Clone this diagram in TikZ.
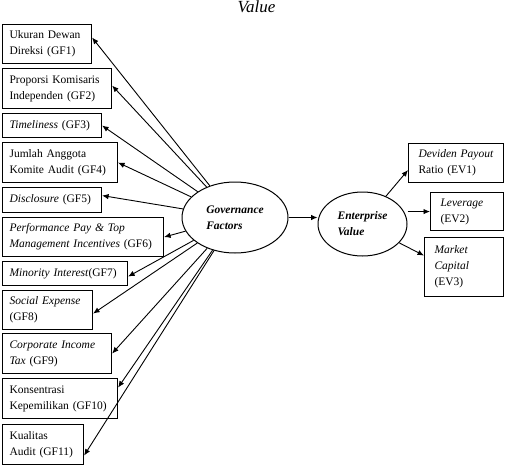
\documentclass[tikz,border=0pt]{standalone}
\usepackage{fontspec}
\setmainfont{Liberation Serif}
\usetikzlibrary{arrows.meta,shapes.geometric,calc}
\begin{document}
\begin{tikzpicture}[x=1pt,y=-1pt,
  box/.style={draw, line width=1.1pt, anchor=north west, align=left, inner xsep=7pt, inner ysep=0pt, font=\fontsize{11.5}{16}\selectfont},
  evbox/.style={box, inner xsep=10pt},
  oval/.style={draw, ellipse, line width=1pt, align=left, inner sep=0pt, font=\fontsize{11.5}{16}\selectfont\bfseries\itshape},
  conn/.style={line width=0.9pt, -{Latex[length=6.5pt,width=5.5pt]}}]
\useasboundingbox (0,0) rectangle (508,472);

\node[font=\fontsize{17}{17}\selectfont\itshape, anchor=base, inner sep=0pt] (title) at (256.5,12.7) {Value};

\node[box, text width=75pt, minimum height=39pt] (gf1) at (2,24) {Ukuran Dewan\\Direksi (GF1)};
\node[box, text width=95pt, minimum height=40pt] (gf2) at (2,68) {Proporsi Komisaris\\Independen (GF2)};
\node[box, text width=85pt, minimum height=24pt] (gf3) at (2,113) {\textit{Timeliness} (GF3)};
\node[box, text width=101pt, minimum height=40pt] (gf4) at (2,142) {Jumlah Anggota\\Komite Audit (GF4)};
\node[box, text width=85pt, minimum height=25pt] (gf5) at (2,187) {\textit{Disclosure} (GF5)};
\node[box, text width=147pt, minimum height=39pt] (gf6) at (2,217) {\textit{Performance Pay \& Top}\\\textit{Management Incentives} (GF6)};
\node[box, text width=111pt, minimum height=24pt] (gf7) at (2,261) {\textit{Minority Interest}(GF7)};
\node[box, text width=76pt, minimum height=39pt] (gf8) at (2,290) {\textit{Social Expense}\\(GF8)};
\node[box, text width=95pt, minimum height=40pt] (gf9) at (2,333) {\textit{Corporate Income}\\\textit{Tax} (GF9)};
\node[box, text width=101pt, minimum height=40pt] (gf10) at (2,378) {Konsentrasi\\Kepemilikan (GF10)};
\node[box, text width=67pt, minimum height=40pt] (gf11) at (2,424) {Kualitas\\Audit (GF11)};

\node[oval, minimum width=106pt, minimum height=71pt] (gf) at (235,217.5) {Governance\\Factors};
\node[oval, minimum width=89pt, minimum height=64pt] (ev) at (362.5,224) {Enterprise\\Value};

\node[evbox, text width=75pt, minimum height=39pt] (ev1) at (408,143) {\textit{Deviden Payout}\\Ratio (EV1)};
\node[evbox, text width=53pt, minimum height=38pt] (ev2) at (430,192) {\textit{Leverage}\\(EV2)};
\node[evbox, text width=59pt, minimum height=59pt] (ev3) at (424,237) {\textit{Market}\\\textit{Capital}\\(EV3)};

\draw[conn] (gf) -- ([yshift=6.5pt]gf1.east);
\draw[conn] (gf) -- ([yshift=3pt]gf2.east);
\draw[conn] (gf) -- (gf3.east);
\draw[conn] (gf) -- (gf4.east);
\draw[conn] (gf) -- ([yshift=4.5pt]gf5.east);
\draw[conn] (gf) -- (gf6.east);
\draw[conn] (gf) -- ([yshift=-3pt]gf7.east);
\draw[conn] (gf) -- ([yshift=-3.5pt]gf8.east);
\draw[conn] (gf) -- (gf9.east);
\draw[conn] (gf) -- ([yshift=11pt]gf10.east);
\draw[conn] (gf) -- ([yshift=-11pt]gf11.east);

\draw[conn] (gf.east) -- (gf.east -| ev.west);
\draw[conn] (ev) -- ([yshift=-7pt]ev1.west);
\draw[conn] (ev.east |- ev2.west) -- (ev2.west);
\draw[conn] (ev) -- ([yshift=11.5pt]ev3.west);
\end{tikzpicture}
\end{document}
